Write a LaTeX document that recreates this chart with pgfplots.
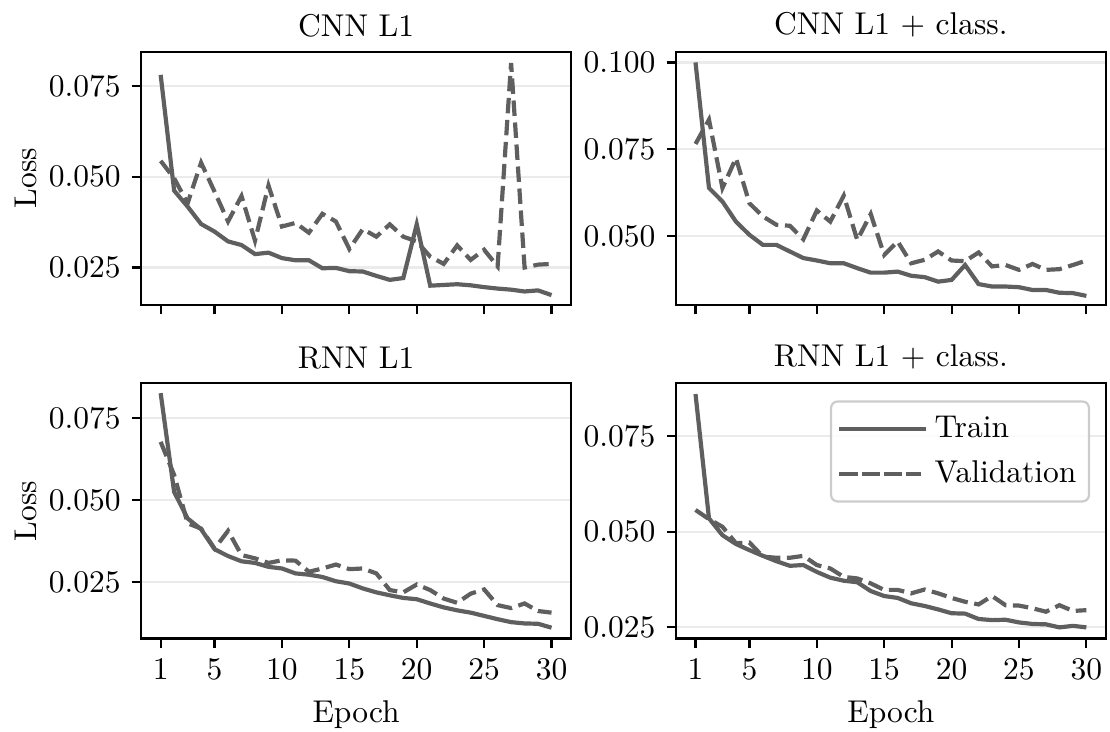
\documentclass[border=0pt]{standalone}
\usepackage{pgfplots}
\pgfplotsset{compat=1.18}
\definecolor{lc}{RGB}{95,95,95}
\definecolor{gc}{RGB}{235,235,235}
\definecolor{lb}{RGB}{204,204,204}

\pgfplotstableread{
e  tr1    va1    tr2    va2    tr3    va3    tr4    va4
1  0.0781 0.0544 0.1000 0.0765 0.0827 0.0678 0.0860 0.0557
2  0.0462 0.0496 0.0638 0.0835 0.0525 0.0577 0.0535 0.0533
3  0.0418 0.0427 0.0599 0.0638 0.0444 0.0429 0.0491 0.0513
4  0.0370 0.0539 0.0541 0.0724 0.0411 0.0413 0.0468 0.0470
5  0.0349 0.0459 0.0503 0.0594 0.0350 0.0352 0.0452 0.0472
6  0.0322 0.0377 0.0474 0.0556 0.0329 0.0406 0.0437 0.0435
7  0.0312 0.0447 0.0474 0.0532 0.0313 0.0332 0.0423 0.0432
8  0.0287 0.0324 0.0455 0.0529 0.0308 0.0322 0.0411 0.0432
9  0.0291 0.0476 0.0436 0.0490 0.0296 0.0308 0.0413 0.0437
10 0.0276 0.0363 0.0429 0.0573 0.0291 0.0316 0.0395 0.0413
11 0.0270 0.0373 0.0421 0.0541 0.0276 0.0315 0.0380 0.0404
12 0.0270 0.0346 0.0421 0.0616 0.0272 0.0281 0.0372 0.0382
13 0.0248 0.0398 0.0407 0.0488 0.0265 0.0291 0.0368 0.0378
14 0.0249 0.0377 0.0394 0.0563 0.0252 0.0303 0.0345 0.0365
15 0.0240 0.0301 0.0394 0.0445 0.0245 0.0289 0.0332 0.0348
16 0.0239 0.0356 0.0397 0.0484 0.0230 0.0291 0.0327 0.0348
17 0.0227 0.0335 0.0385 0.0421 0.0218 0.0276 0.0313 0.0339
18 0.0216 0.0369 0.0381 0.0431 0.0209 0.0225 0.0306 0.0349
19 0.0221 0.0335 0.0368 0.0455 0.0201 0.0218 0.0297 0.0339
20 0.0369 0.0322 0.0373 0.0429 0.0197 0.0242 0.0287 0.0327
21 0.0200 0.0280 0.0416 0.0427 0.0184 0.0225 0.0286 0.0317
22 0.0202 0.0260 0.0361 0.0452 0.0172 0.0199 0.0272 0.0310
23 0.0204 0.0311 0.0354 0.0412 0.0163 0.0186 0.0269 0.0332
24 0.0201 0.0271 0.0354 0.0416 0.0156 0.0214 0.0270 0.0308
25 0.0196 0.0299 0.0352 0.0402 0.0146 0.0227 0.0263 0.0307
26 0.0192 0.0253 0.0344 0.0419 0.0136 0.0179 0.0259 0.0300
27 0.0189 0.0814 0.0344 0.0402 0.0127 0.0170 0.0258 0.0291
28 0.0184 0.0250 0.0336 0.0404 0.0123 0.0184 0.0250 0.0308
29 0.0187 0.0258 0.0335 0.0416 0.0122 0.0161 0.0254 0.0293
30 0.0174 0.0260 0.0327 0.0429 0.0110 0.0156 0.0250 0.0295
}\data

\pgfplotsset{
  myax/.style={
    scale only axis, width=136.5pt,
    anchor=north west,
    xmin=-0.45, xmax=31.45,
    xtick={1,5,10,15,20,25,30},
    tick align=outside, xtick pos=left, ytick pos=left,
    major tick length=3pt,
    tick style={black, line width=0.7pt},
    axis line style={black, line width=0.7pt},
    ymajorgrids, grid style={gc, line width=0.7pt},
    yticklabel style={/pgf/number format/.cd, fixed, fixed zerofill, precision=3},
    scaled y ticks=false,
    title style={yshift=-5pt},
    ylabel style={yshift=-3pt},
    legend cell align=left,
  },
  tr/.style={lc, line width=1.33pt, solid},
  va/.style={lc, line width=1.33pt, dash pattern=on 4.9pt off 2.1pt},
}

\begin{document}
\begin{tikzpicture}
\useasboundingbox (0,0) rectangle (352.4pt,-232.1pt);

\begin{axis}[myax, at={(44.8pt,-16.4pt)}, height=80.4pt,
  title={CNN L1}, ylabel={Loss}, xticklabels={},
  ymin=0.0147, ymax=0.0845, ytick={0.025,0.050,0.075}]
  \addplot[tr] table[x=e,y=tr1]{\data};
  \addplot[va] table[x=e,y=va1]{\data};
\end{axis}

\begin{axis}[myax, at={(214.6pt,-16.4pt)}, height=80.4pt,
  title={CNN L1 + class.}, xticklabels={},
  ymin=0.0301, ymax=0.1031, ytick={0.050,0.075,0.100}]
  \addplot[tr] table[x=e,y=tr2]{\data};
  \addplot[va] table[x=e,y=va2]{\data};
\end{axis}

\begin{axis}[myax, at={(44.8pt,-121.7pt)}, height=81pt,
  title={RNN L1}, ylabel={Loss}, xlabel={Epoch},
  ymin=0.0077, ymax=0.0857, ytick={0.025,0.050,0.075}]
  \addplot[tr] table[x=e,y=tr3]{\data};
  \addplot[va] table[x=e,y=va3]{\data};
\end{axis}

\begin{axis}[myax, at={(214.6pt,-121.7pt)}, height=81pt,
  title={RNN L1 + class.}, xlabel={Epoch},
  ymin=0.0221, ymax=0.0888, ytick={0.025,0.050,0.075},
  legend style={at={(0.963,0.933)}, anchor=north east, draw=lb,
    rounded corners=2pt, fill=white, fill opacity=0.8, text opacity=1,
    row sep=2pt, inner xsep=2pt, inner ysep=2.5pt, line width=0.7pt},
  legend image code/.code={\path (-1pt,0pt) -- (26.5pt,0pt);\draw[#1] (0pt,0pt) -- (21.6pt,0pt);}]
  \addplot[tr] table[x=e,y=tr4]{\data};
  \addlegendentry{Train}
  \addplot[va] table[x=e,y=va4]{\data};
  \addlegendentry{Validation}
\end{axis}
\end{tikzpicture}
\end{document}
